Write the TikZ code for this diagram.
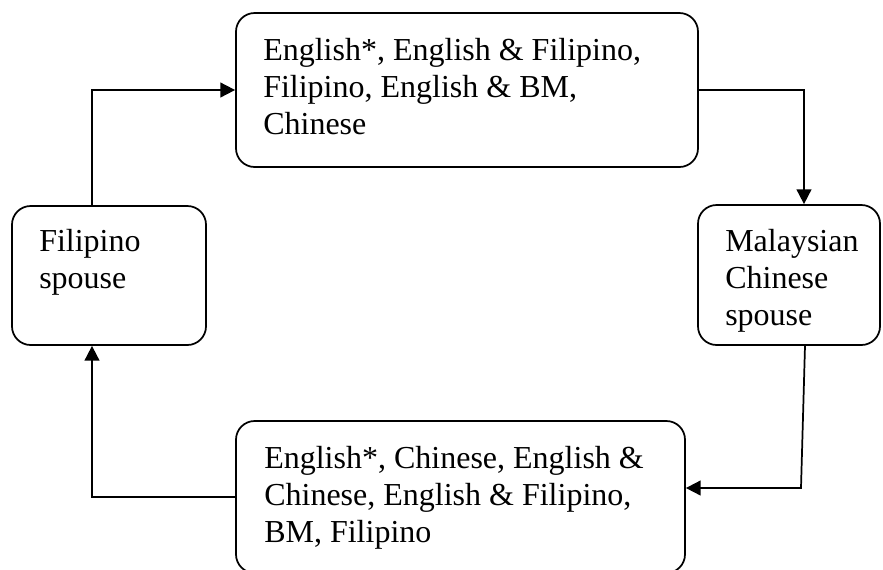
\documentclass[tikz,border=0pt]{standalone}
\usepackage{fontspec}
\setmainfont{Liberation Serif}
\usetikzlibrary{arrows.meta}
\tikzset{
  box/.style={draw, line width=1.3pt, rounded corners=14pt, inner sep=0pt, fill=white},
  txt/.style={anchor=north west, inner sep=0pt, align=left, font=\fontsize{24pt}{27.75pt}\selectfont},
  conn/.style={line width=1.3pt, -{Triangle[length=11pt,width=11pt]}}
}
\begin{document}
\begin{tikzpicture}[x=0.75pt,y=-0.75pt]
\clip (0,0) rectangle (883,569);
\fill[white] (0,0) rectangle (883,569);
% boxes
\node[box, minimum width=346.5pt, minimum height=115.5pt] (top) at (467,90) {};
\node[box, minimum width=145.5pt, minimum height=104.25pt] (left) at (109,275.5) {};
\node[box, minimum width=136.5pt, minimum height=105pt] (right) at (789,275) {};
\node[box, minimum width=336.75pt, minimum height=114pt] (bottom) at (460.5,497) {};
% texts
\node[txt] (toptxt) at (263,38.5) {English*, English \& Filipino,\\Filipino, English \& BM,\\Chinese};
\node[txt] (lefttxt) at (39,229) {Filipino\\spouse};
\node[txt] (righttxt) at (725,229) {Malaysian\\Chinese\\spouse};
\node[txt] (bottomtxt) at (264,446) {English*, Chinese, English \&\\Chinese, English \& Filipino,\\BM, Filipino};
% connector helpers
\coordinate (lx) at (92,0);
\coordinate (rx) at (804,0);
\coordinate (rs) at (805,0);
\coordinate (rb) at (801,488);
% connectors
\draw[conn] (left.north -| lx) |- (top.west);
\draw[conn] (top.east) -| (right.north -| rx);
\draw[conn] (right.south -| rs) -- (rb) -- (bottom.east |- rb);
\draw[conn] (bottom.west) -| (left.south -| lx);
\end{tikzpicture}
\end{document}
